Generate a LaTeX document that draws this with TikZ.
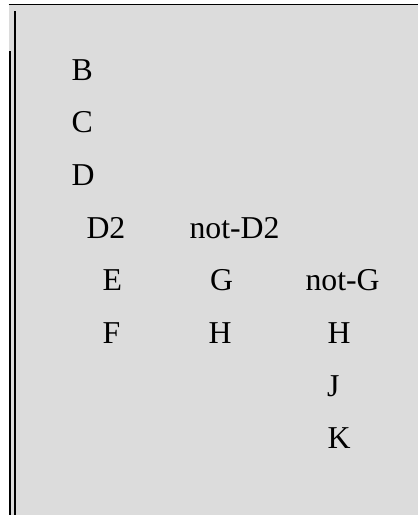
\documentclass[tikz,border=0pt]{standalone}
\usepackage{fontspec}
\setmainfont{Liberation Serif}
\definecolor{panelgray}{HTML}{DCDCDC}
\begin{document}
\begin{tikzpicture}[x=1pt,y=-1pt,
  lbl/.style={anchor=base west,inner sep=0pt,outer sep=0pt,font=\fontsize{31.8}{38}\selectfont,text=black},
  rule/.style={line width=2pt,black}]
\useasboundingbox (0,0) rectangle (418,515);
\fill[panelgray] (9,4.5) rectangle (418,515);
\coordinate (tl) at (8.7,4.5);
\coordinate (tr) at (418,4.5);
\draw[line width=1.1pt] (tl) -- (tr);
\coordinate (a1) at (9.7,51);
\coordinate (a2) at (9.7,515);
\coordinate (b1) at (14.8,11);
\coordinate (b2) at (14.8,515);
\draw[rule] (a1) -- (a2);
\draw[rule] (b1) -- (b2);
\node[lbl] (B) at (71.5,80) {B};
\node[lbl] (C) at (71.5,132.7) {C};
\node[lbl] (D) at (71.5,185.3) {D};
\node[lbl] (D2) at (86.5,238) {D2};
\node[lbl] (notD2) at (189.5,238) {not-D2};
\node[lbl] (E) at (102.5,290.7) {E};
\node[lbl] (G) at (210,290.7) {G};
\node[lbl] (notG) at (305.5,290.7) {not-G};
\node[lbl] (F) at (102.5,343.3) {F};
\node[lbl] (H1) at (208.5,343.3) {H};
\node[lbl] (H2) at (327.5,343.3) {H};
\node[lbl] (J) at (327,396) {J};
\node[lbl] (K) at (327.5,448.7) {K};
\end{tikzpicture}
\end{document}
